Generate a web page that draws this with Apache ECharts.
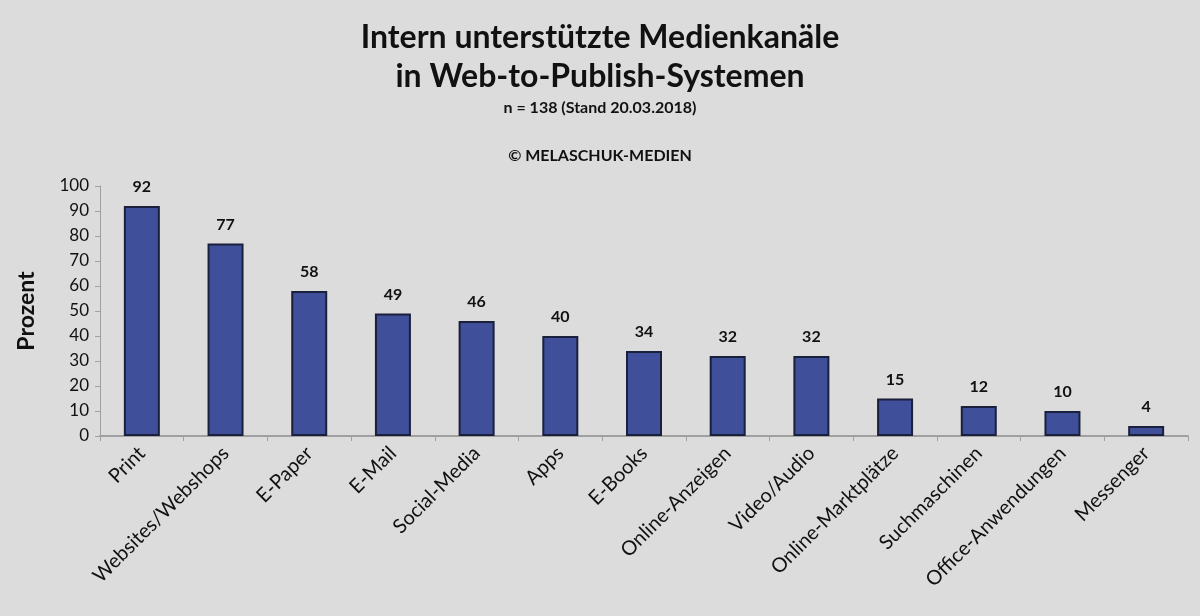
<!DOCTYPE html>
<html>
<head>
<meta charset="utf-8">
<script src="https://cdn.jsdelivr.net/npm/echarts@6/dist/echarts.min.js"></script>
<style>
  html, body { margin: 0; padding: 0; background: #dcdcdc; }
  #chart { width: 1200px; height: 616px; }
</style>
</head>
<body>
<div id="chart"></div>
<script>
// Kategorien
const categories = ['Print', 'Websites/Webshops', 'E-Paper', 'E-Mail', 'Social-Media', 'Apps', 'E-Books',
  'Online-Anzeigen', 'Video/Audio', 'Online-Marktplätze', 'Suchmaschinen', 'Office-Anwendungen', 'Messenger']
// Prozentwerte
const values = [92, 77, 58, 49, 46, 40, 34, 32, 32, 15, 12, 10, 4]
const yTicks = [0, 10, 20, 30, 40, 50, 60, 70, 80, 90, 100]

const FONT = 'Lato, "Open Sans", sans-serif'
const AXIS_COLOR = '#a0a0a0'

const myChart = echarts.init(document.getElementById('chart'))

myChart.setOption({
  backgroundColor: '#dcdcdc',
  textStyle: { fontFamily: FONT },
  title: [
    {
      text: 'Intern unterstützte Medienkanäle\nin Web-to-Publish-Systemen',
      left: 'center',
      top: 13,
      textStyle: { fontSize: 32, fontWeight: 'bold', color: '#111', lineHeight: 39, fontFamily: FONT }
    },
    {
      text: 'n = 138 (Stand 20.03.2018)',
      left: 'center',
      top: 95,
      textStyle: { fontSize: 16, fontWeight: 'bold', color: '#111', fontFamily: FONT }
    },
    {
      text: '© MELASCHUK-MEDIEN',
      left: 'center',
      top: 143,
      textStyle: { fontSize: 16, fontWeight: 'bold', color: '#111', fontFamily: FONT }
    }
  ],
  grid: { left: 100, right: 12, top: 186, bottom: 180 },
  xAxis: {
    type: 'category',
    data: categories,
    axisLine: { lineStyle: { color: AXIS_COLOR, width: 2 } },
    axisTick: { show: true, length: 5, lineStyle: { color: AXIS_COLOR } },
    axisLabel: {
      interval: 0,
      rotate: 45,
      margin: 14,
      fontSize: 20,
      color: '#111',
      fontFamily: FONT
    }
  },
  yAxis: {
    type: 'value',
    min: yTicks[0],
    max: yTicks[yTicks.length - 1],
    interval: 10,
    name: 'Prozent',
    nameLocation: 'middle',
    nameGap: 62,
    nameTextStyle: { fontSize: 23, fontWeight: 'bold', color: '#111', fontFamily: FONT },
    axisLine: { show: true, lineStyle: { color: AXIS_COLOR, width: 1 } },
    axisTick: { show: true, length: 5, lineStyle: { color: AXIS_COLOR } },
    axisLabel: { fontSize: 17, color: '#111', margin: 11, fontFamily: FONT },
    splitLine: { show: false }
  },
  series: [{
    type: 'bar',
    data: values,
    barWidth: '43%',
    itemStyle: { color: '#3f4f9a', borderColor: '#1a1f3c', borderWidth: 2 },
    label: {
      show: true,
      position: 'top',
      distance: 11,
      fontSize: 16,
      fontWeight: 'bold',
      color: '#111',
      fontFamily: FONT
    }
  }]
})
</script>
</body>
</html>
